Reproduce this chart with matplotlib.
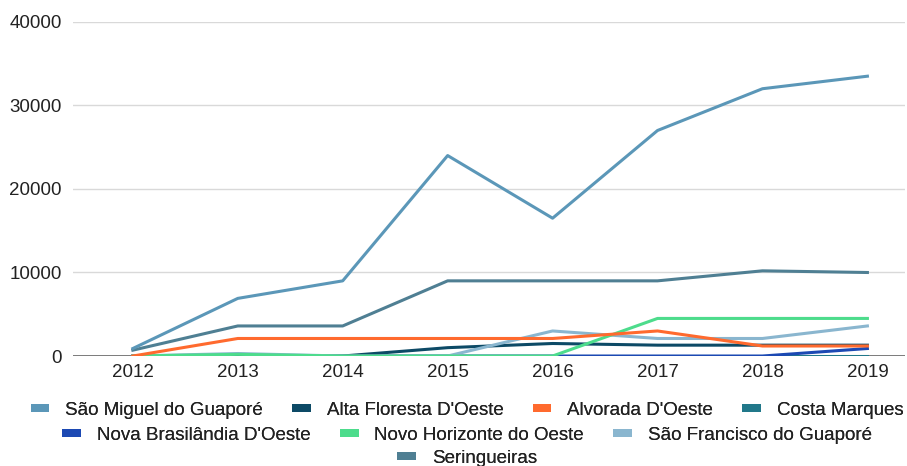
import matplotlib
matplotlib.use("Agg")
import matplotlib.pyplot as plt
from matplotlib.patches import Patch

plt.rcParams['font.family'] = ['Liberation Sans', 'DejaVu Sans']

years = [2012, 2013, 2014, 2015, 2016, 2017, 2018, 2019]

sao_miguel = [900, 6900, 9000, 24000, 16500, 27000, 32000, 33500]
alta_floresta = [0, 0, 0, 1000, 1500, 1300, 1300, 1300]
alvorada = [0, 2100, 2100, 2100, 2100, 3000, 1200, 1200]
costa_marques = [0, 0, 0, 0, 0, 0, 0, 0]
nova_brasilandia = [0, 0, 0, 0, 0, 0, 0, 900]
novo_horizonte = [0, 200, 0, 0, 0, 4500, 4500, 4500]
sao_francisco = [0, 300, 0, 0, 3000, 2100, 2100, 3600]
seringueiras = [700, 3600, 3600, 9000, 9000, 9000, 10200, 10000]

names = ["São Miguel do Guaporé", "Alta Floresta D'Oeste", "Alvorada D'Oeste",
         "Costa Marques", "Nova Brasilândia D'Oeste", "Novo Horizonte do Oeste",
         "São Francisco do Guaporé", "Seringueiras"]
series = [sao_miguel, alta_floresta, alvorada, costa_marques, nova_brasilandia,
          novo_horizonte, sao_francisco, seringueiras]
colors = ["#5b97b8", "#0d4a66", "#ff6a2e", "#21788a", "#1c49b3",
          "#4ddc8c", "#8ab6cf", "#4f7f93"]

# draw order: low-value lines first so the big ones sit on top
order = [3, 4, 1, 6, 5, 2, 7, 0]

fig = plt.figure(figsize=(9.07, 4.66), dpi=100)
ax = fig.add_axes([0.0805, 0.236, 0.9175, 0.717])

for i in order:
    ax.plot(years, series[i], color=colors[i], lw=2.2, solid_joinstyle='round', zorder=3)

ax.set_ylim(0, 40000)
ax.set_xlim(2011.43, 2019.36)
ax.set_yticks([0, 10000, 20000, 30000, 40000])
ax.set_xticks(years)
ax.grid(axis='y', color='#d9d9d9', lw=1)
ax.axhline(0, color='#666666', lw=1.2, zorder=2)
for s in ax.spines.values():
    s.set_visible(False)
ax.tick_params(length=0, labelsize=13.5, colors='#222222')
ax.tick_params(axis='y', pad=8)
ax.tick_params(axis='x', pad=6)

handles = [Patch(facecolor=c, edgecolor='none') for c in colors]
rows = [(0, 4, 0.120), (4, 7, 0.066), (7, 8, 0.016)]
for a, b, y in rows:
    leg = fig.legend(handles[a:b], names[a:b], loc='center', bbox_to_anchor=(0.515, y),
                     ncol=b - a, frameon=False, fontsize=13.5, handlelength=1.0,
                     handleheight=0.3, handletextpad=0.85, columnspacing=1.55,
                     borderpad=0, labelcolor='#222222')
    fig.add_artist(leg)

fig.savefig('out.png', dpi=100)
